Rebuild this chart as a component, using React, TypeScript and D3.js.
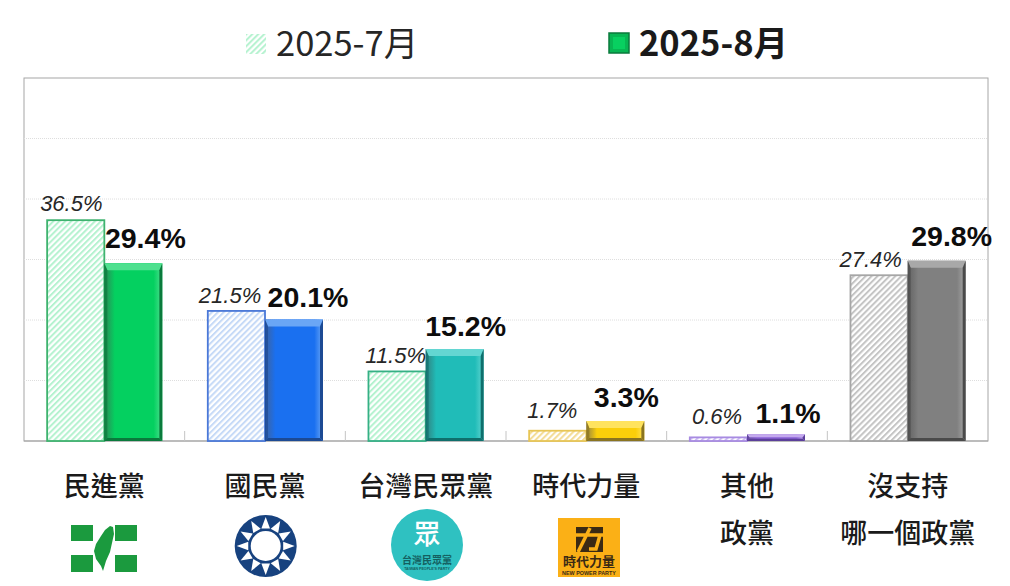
import React from "react";
import * as d3 from "d3";

const parties = ["民進黨", "國民黨", "台灣民眾黨", "時代力量", "其他|政黨", "沒支持|哪一個政黨"];
const julyValues = [36.5, 21.5, 11.5, 1.7, 0.6, 27.4];
const augustValues = [29.4, 20.1, 15.2, 3.3, 1.1, 29.8];
const seriesNames = ["2025-7月", "2025-8月"];
const gridTicks = [0, 10, 20, 30, 40, 50, 60];

const mainColor = ["#04d060", "#1a70f0", "#20bcb8", "#fbcf0a", "#8a62d6", "#808080"];
const darkColor = ["#0a7a3c", "#1c4a94", "#0f6f6c", "#8a7420", "#5b3f9a", "#4a4a4a"];
const lightColor = ["#4fe08f", "#6aa6f5", "#63d6d2", "#ffe35e", "#c4a9ee", "#a8a8a8"];
const hatchStroke = ["#3fb36f", "#4a78d8", "#35b085", "#e8c656", "#a88be2", "#a6a6a6"];
const hatchFill = ["#b4f2cf", "#c6daf7", "#b4f2cf", "#f3dc96", "#cdbcf2", "#c4c4c4"];

// label nudges relative to the bar's top centre (layout only)
const julyNudge = [[-4, -9], [-6, -8], [-1, -8], [-5, -13], [-1, -13], [-8, -8]];
const augNudge = [[12, -15], [14, -12], [11, -13], [11, -14], [12, -11], [15, -15]];

const W = 1010, H = 586;
const left = 24, right = 988, top = 78, bottom = 441;
const labelFont = "'Noto Sans CJK TC', 'Noto Sans', sans-serif";
const numFont = "'Liberation Sans', Arial, sans-serif";

const x0 = d3.scaleBand<number>().domain(d3.range(parties.length)).range([left, right]).paddingInner(0).paddingOuter(0);
const y = d3.scaleLinear().domain([0, 60]).range([bottom, top]);
const barW = 58;

function Bevel({ x, yTop, w, i }: { x: number; yTop: number; w: number; i: number }) {
  const h = bottom - yTop;
  const e = Math.min(7, h / 2.2);
  const s = Math.min(3, h / 3);
  const yb = bottom;
  return (
    <g>
      <rect x={x} y={yTop} width={w} height={h} fill={`url(#body${i})`} />
      <polygon points={`${x},${yTop} ${x + w},${yTop} ${x + w - s},${yTop + e} ${x + s},${yTop + e}`} fill={lightColor[i]} />
      <polygon points={`${x},${yTop} ${x + s},${yTop + e} ${x + s},${yb - s} ${x},${yb}`} fill={darkColor[i]} opacity={0.7} />
      <polygon points={`${x + w},${yTop} ${x + w - s},${yTop + e} ${x + w - s},${yb - s} ${x + w},${yb}`} fill={darkColor[i]} />
      <polygon points={`${x},${yb} ${x + s},${yb - s} ${x + w - s},${yb - s} ${x + w},${yb}`} fill={darkColor[i]} />
    </g>
  );
}

function DppLogo() {
  const c = "#1b9a3e";
  return (
    <g fill={c}>
      <rect x={71} y={525} width={22} height={16} />
      <rect x={115} y={525} width={22} height={16} />
      <rect x={71} y={555} width={22} height={17} />
      <rect x={115} y={555} width={22} height={17} />
      <path d="M110,526 L113,527 L114,534 L112,543 L110,552 L106,561 L103,571 L101,566 L96,559 L94,551 L96,544 L101,536 L105,530 Z" />
    </g>
  );
}

function KmtLogo() {
  const cx = 265.7, cy = 546, r = 31;
  const tri = d3.range(12).map((k) => {
    const a = (k * Math.PI) / 6 - Math.PI / 2;
    const d = Math.PI / 13;
    const p = (rad: number, an: number) => `${cx + rad * Math.cos(an)},${cy + rad * Math.sin(an)}`;
    return `${p(29, a)} ${p(18, a - d)} ${p(18, a + d)}`;
  });
  return (
    <g>
      <circle cx={cx} cy={cy} r={r} fill="#17427f" />
      {tri.map((t, k) => <polygon key={k} points={t} fill="#ffffff" />)}
      <circle cx={cx} cy={cy} r={15} fill="#ffffff" />
    </g>
  );
}

function TppLogo() {
  return (
    <g>
      <circle cx={427} cy={545} r={36} fill="#2fc1c1" />
      <text x={427} y={544} textAnchor="middle" fontFamily={labelFont} fontSize={27} fontWeight={500} fill="#ffffff">眾</text>
      <text x={427} y={564} textAnchor="middle" fontFamily={labelFont} fontSize={10} fontWeight={700} fill="#145f5f">台灣民眾黨</text>
      <text x={427} y={570} textAnchor="middle" fontFamily={numFont} fontSize={3.6} fontWeight={700} fill="#145f5f">TAIWAN PEOPLE'S PARTY</text>
    </g>
  );
}

function NppLogo() {
  return (
    <g>
      <rect x={558} y={518} width={62} height={59} fill="#fbb016" />
      <polygon points="576,527 603,527 603,552 576,552" fill="#3a2a14" />
      <path d="M574,535 L604,535 M600,535 L596,549 L589,549 M590,528 L578,552" fill="none" stroke="#fbb016" strokeWidth={3.5} />
      <text x={589} y={566} textAnchor="middle" fontFamily={labelFont} fontSize={13} fontWeight={700} fill="#3a2a14">時代力量</text>
      <text x={589} y={574.5} textAnchor="middle" fontFamily={numFont} fontSize={5.4} fontWeight={700} fill="#3a2a14">NEW POWER PARTY</text>
    </g>
  );
}

export default function App() {
  return (
    <svg width={W} height={H} viewBox={`0 0 ${W} ${H}`} style={{ position: "absolute", left: 0, top: 0, background: "#fff" }}>
      <defs>
        {parties.map((_, i) => (
          <React.Fragment key={i}>
            <pattern id={`hatch${i}`} patternUnits="userSpaceOnUse" width={4.2} height={4.2} patternTransform="rotate(45)">
              <rect width={4.2} height={4.2} fill="#ffffff" />
              <rect width={2} height={4.2} fill={hatchFill[i]} />
            </pattern>
            <linearGradient id={`body${i}`} x1="0" x2="1" y1="0" y2="0">
              <stop offset="0" stopColor={darkColor[i]} stopOpacity={0.85} />
              <stop offset="0.18" stopColor={mainColor[i]} />
              <stop offset="0.85" stopColor={mainColor[i]} />
              <stop offset="1" stopColor={lightColor[i]} />
            </linearGradient>
          </React.Fragment>
        ))}
      </defs>

      <rect x={left} y={top} width={right - left} height={bottom - top} fill="#fff" stroke="#a6a6a6" strokeWidth={1} />
      {gridTicks.slice(1, -1).map((t) => (
        <line key={t} x1={left} x2={right} y1={y(t)} y2={y(t)} stroke="#dedede" strokeWidth={1} strokeDasharray="1 1" />
      ))}
      <line x1={left} x2={right} y1={bottom} y2={bottom} stroke="#a6a6a6" strokeWidth={1.2} />
      {d3.range(1, parties.length).map((k) => {
        const tx = x0(k)!;
        return <line key={k} x1={tx} x2={tx} y1={bottom - 10} y2={bottom} stroke="#c4c4c4" strokeWidth={1} />;
      })}

      {parties.map((name, i) => {
        const cx = x0(i)! + x0.bandwidth() / 2;
        const yJ = y(julyValues[i]);
        const yA = y(augustValues[i]);
        const lines = name.split("|");
        return (
          <g key={name}>
            <rect x={cx - barW + 0.8} y={yJ} width={barW - 0.8} height={bottom - yJ} fill={`url(#hatch${i})`} stroke={hatchStroke[i]} strokeWidth={1.8} />
            <Bevel x={cx} yTop={yA} w={barW} i={i} />
            <text x={cx - barW / 2 + julyNudge[i][0]} y={yJ + julyNudge[i][1]} textAnchor="middle" fontFamily={numFont} fontStyle="italic" fontSize={22} fill="#262626">
              {julyValues[i].toFixed(1)}%
            </text>
            <text x={cx + barW / 2 + augNudge[i][0]} y={yA + augNudge[i][1]} textAnchor="middle" fontFamily={numFont} fontWeight={700} fontSize={28.5} fill="#0d0d0d">
              {augustValues[i].toFixed(1)}%
            </text>
            {lines.map((l, k) => (
              <text key={k} x={cx} y={496 + k * 47} textAnchor="middle" fontFamily={labelFont} fontSize={27} fontWeight={500} fill="#1a1a1a">
                {l}
              </text>
            ))}
          </g>
        );
      })}

      <DppLogo />
      <KmtLogo />
      <TppLogo />
      <NppLogo />

      <rect x={246} y={34} width={20} height={20} fill="url(#hatch0)" />
      <text x={276} y={56} fontFamily={labelFont} fontSize={34.5} fontWeight={400} fill="#262626">{seriesNames[0]}</text>
      <rect x={609} y={33} width={20} height={20} fill="#08b653" stroke="#0a7a3c" strokeWidth={1.5} />
      <rect x={613} y={37} width={12} height={12} fill="#08d060" />
      <text x={639} y={56} fontFamily={labelFont} fontSize={34.5} fontWeight={700} fill="#1a1a1a">{seriesNames[1]}</text>
    </svg>
  );
}
